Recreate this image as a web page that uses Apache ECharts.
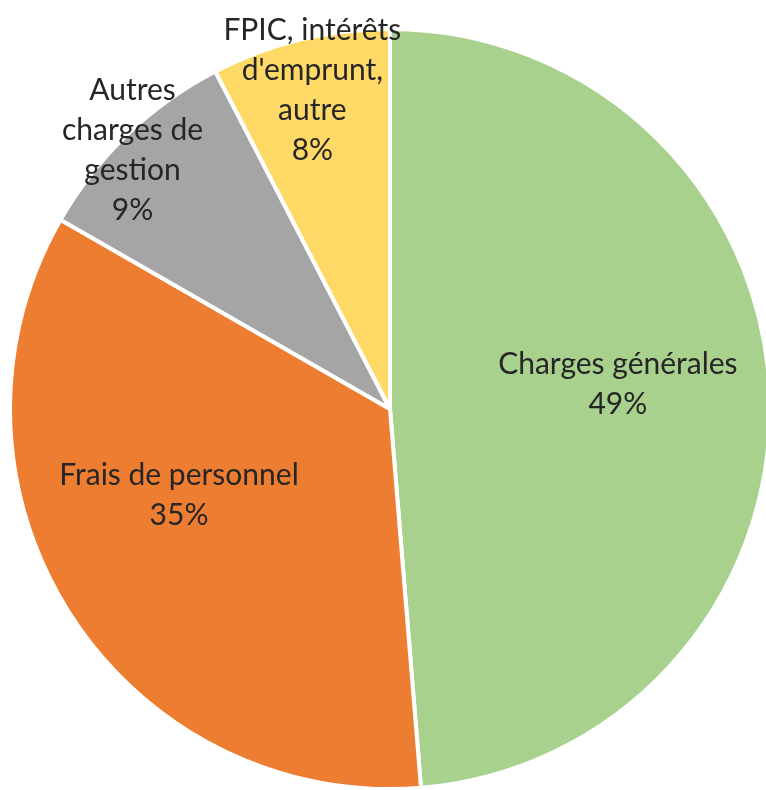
<!DOCTYPE html>
<html lang="fr">
<head>
    <meta charset="UTF-8">
    <title>Répartition des charges</title>
    <script src="https://cdn.jsdelivr.net/npm/echarts@6/dist/echarts.min.js"></script>
    <style>
        html, body { margin: 0; padding: 0; background: #fff; }
    </style>
</head>
<body>
<div id="chart" style="width:766px;height:790px;"></div>
<script>
    // parts (en %)
    var categories = ['Charges générales', 'Frais de personnel', 'Autres\ncharges de\ngestion', "FPIC, intérêts\nd'emprunt,\nautre"];
    var values = [48.7, 34.6, 9.1, 7.6];
    var colors = ['#A9D18E', '#ED7D31', '#A5A5A5', '#FFD966'];
    // décalage des étiquettes par rapport à la position "inside"
    var labelShift = [[35, -17], [-48, -17], [-124, -119], [-32, -131]];

    var pieData = [];
    for (var i = 0; i < categories.length; i++) {
        pieData.push({
            name: categories[i],
            value: values[i],
            itemStyle: {color: colors[i]}
        });
    }

    var ct = echarts.init(document.getElementById('chart'));
    var option = {
        animation: false,
        series: [
            {
                type: 'pie',
                center: [390, 409],
                radius: 380,
                startAngle: 90,
                clockwise: true,
                data: pieData,
                itemStyle: {
                    borderColor: '#ffffff',
                    borderWidth: 4
                },
                label: {
                    show: true,
                    position: 'inside',
                    color: '#262626',
                    fontFamily: 'Lato',
                    fontSize: 30,
                    lineHeight: 40,
                    align: 'center',
                    formatter: function (p) {
                        return p.name + '\n' + Math.round(p.percent) + '%';
                    }
                },
                labelLayout: function (p) {
                    return {dx: labelShift[p.dataIndex][0], dy: labelShift[p.dataIndex][1]};
                },
                emphasis: {disabled: true}
            }
        ]
    };
    ct.setOption(option);
</script>
</body>
</html>
